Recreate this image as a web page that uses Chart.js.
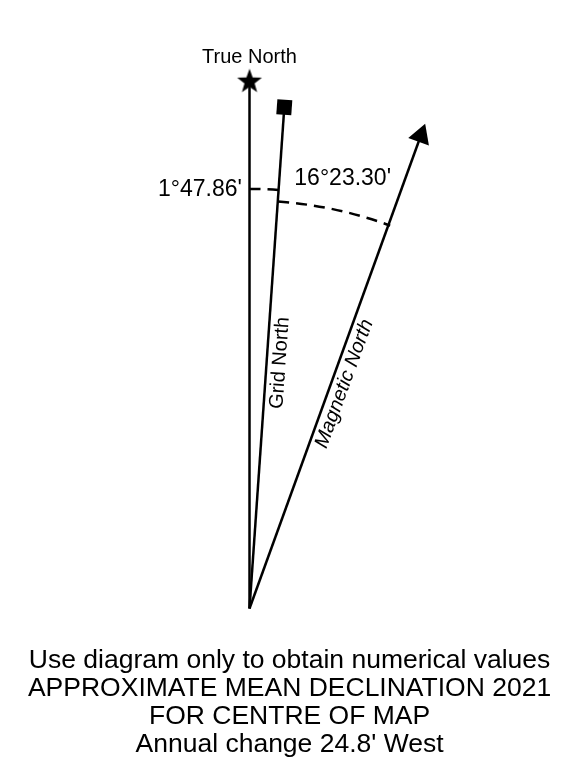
<!DOCTYPE html>
<html>
<head>
<meta charset="utf-8">
<title>Declination diagram</title>
<script src="https://cdn.jsdelivr.net/npm/chart.js@4.4.1/dist/chart.umd.min.js"></script>
<style>
    body { margin: 0; background: #fff; }
    canvas { display: block; }
</style>
</head>
<body>
<canvas id="declChart" width="561" height="782"></canvas>
<script>
// DADOS DO DIAGRAMA (unidades do diagrama, origem no pé das linhas)
const directions = ['True North', 'Grid North', 'Magnetic North'];
const lineEndX = [0, 36.5, 179.6];
const lineEndY = [546, 518.5, 489];
const markerStyles = ['star', 'rect', 'triangle'];

const angleLabels = ["1°47.86'", "16°23.30'"];
const arcRadius = [434, 422];

const captionLines = [
    'Use diagram only to obtain numerical values',
    'APPROXIMATE MEAN DECLINATION 2021',
    'FOR CENTRE OF MAP',
    "Annual change 24.8' West"
];

const FONT = "'Liberation Sans', Arial, sans-serif";

// bearing (degrees clockwise from true north) of each drawn line
const bearings = lineEndX.map((x, i) => Math.atan2(x, lineEndY[i]) * 180 / Math.PI);

// filled five point star used as the True North marker
function makeStar(outer, inner) {
    const c = document.createElement('canvas');
    c.width = c.height = outer * 2 + 2;
    const g = c.getContext('2d');
    const cx = c.width / 2, cy = c.height / 2 + 1;
    g.beginPath();
    for (let i = 0; i < 10; i++) {
        const r = i % 2 ? inner : outer;
        const a = -Math.PI / 2 + i * Math.PI / 5;
        g.lineTo(cx + r * Math.cos(a), cy + r * Math.sin(a));
    }
    g.closePath();
    g.fillStyle = '#000';
    g.fill();
    return c;
}
const starImg = makeStar(13, 5.3);

const pointSize = { star: 13, rect: 10.6, triangle: 12.7 };

const datasets = directions.map((name, i) => ({
    label: name,
    data: [{ x: 0, y: 0 }, { x: lineEndX[i], y: lineEndY[i] }],
    showLine: true,
    borderColor: '#000',
    backgroundColor: '#000',
    borderWidth: 2.5,
    pointRadius: [0, pointSize[markerStyles[i]]],
    pointStyle: markerStyles[i] === 'star' ? starImg : markerStyles[i],
    rotation: bearings[i],
    pointBorderWidth: 0,
    clip: false
}));

// ARCOS TRACEJADOS + TEXTOS
const diagramPlugin = {
    id: 'diagram',
    afterDatasetsDraw(chart) {
        const ctx = chart.ctx;
        const xs = chart.scales.x, ys = chart.scales.y;
        const px = v => xs.getPixelForValue(v);
        const py = v => ys.getPixelForValue(v);
        const ox = px(0), oy = py(0);
        const toRad = d => d * Math.PI / 180;

        ctx.save();
        ctx.strokeStyle = '#000';
        ctx.lineWidth = 2.5;
        ctx.setLineDash([11, 7]);
        for (let i = 0; i < arcRadius.length; i++) {
            const r = oy - py(arcRadius[i]);
            ctx.beginPath();
            ctx.arc(ox, oy, r, toRad(-90 + bearings[i]), toRad(-90 + bearings[i + 1]));
            ctx.stroke();
        }
        ctx.restore();

        const text = (str, x, y, size, align, opts = {}) => {
            ctx.save();
            ctx.fillStyle = '#000';
            ctx.font = (opts.italic ? 'italic ' : '') + size + 'px ' + FONT;
            ctx.textAlign = align;
            ctx.textBaseline = opts.baseline || 'alphabetic';
            ctx.translate(px(x), py(y));
            if (opts.rot) ctx.rotate(toRad(opts.rot));
            ctx.fillText(str, 0, 0);
            ctx.restore();
        };

        text(directions[0], 0, 564, 20, 'center');
        text(angleLabels[0], -8, 427, 23, 'right');
        text(angleLabels[1], 47, 438, 23, 'left');
        text(directions[1], 32, 254, 20, 'center', { rot: -(90 - bearings[1]), baseline: 'middle' });
        text(directions[2], 99.5, 232.5, 20, 'center', { rot: -(90 - bearings[2]), baseline: 'middle', italic: true });

        captionLines.forEach((line, i) => text(line, 42, -61.5 - 29 * i, 26.5, 'center'));
    }
};

new Chart(document.getElementById('declChart'), {
    type: 'scatter',
    data: { datasets },
    options: {
        responsive: false,
        animation: false,
        devicePixelRatio: 1,
        layout: { padding: 0 },
        plugins: { legend: { display: false }, tooltip: { enabled: false } },
        scales: {
            x: { type: 'linear', display: false, min: -248, max: 313 },
            y: { type: 'linear', display: false, min: -166, max: 616 }
        }
    },
    plugins: [diagramPlugin]
});
</script>
</body>
</html>
